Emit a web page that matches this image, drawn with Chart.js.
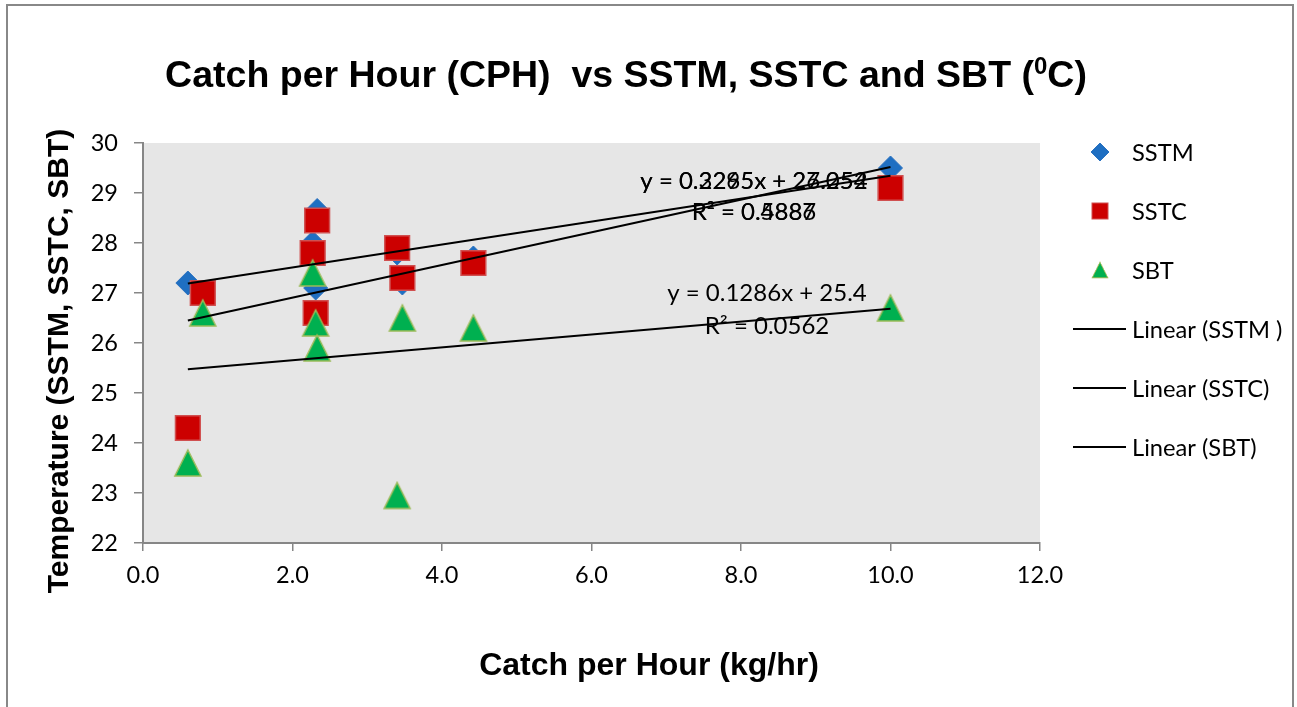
<!DOCTYPE html>
<html>
<head>
<meta charset="utf-8">
<script src="https://cdn.jsdelivr.net/npm/chart.js@4.4.0/dist/chart.umd.min.js"></script>
<style>
  html, body { margin: 0; padding: 0; background: #fff; }
  #wrap { width: 1297px; height: 707px; }
</style>
</head>
<body>
<div id="wrap"><canvas id="cphChart" width="1297" height="707"></canvas></div>
<script>
// === Data ===
const cph  = [0.6, 0.8, 2.27, 2.31, 2.33, 3.4, 3.47, 4.42, 10.0];
const sstm = [27.2, null, 28.0, 27.1, 28.65, 27.8, 27.2, 27.7, 29.5];
const sstc = [24.3, 27.0, 27.8, 26.6, 28.45, 27.9, 27.3, 27.6, 29.1];
const sbt  = [23.6, 26.6, 27.4, 26.4, 25.9, 22.95, 26.5, 26.3, 26.7];

const seriesNames = ['SSTM', 'SSTC', 'SBT'];
const trendNames = ['Linear (SSTM )', 'Linear (SSTC)', 'Linear (SBT)'];
const trendSlope = [0.2295, 0.3265, 0.1286];
const trendIntercept = [27.052, 26.254, 25.4];
const trendEq = ['y = 0.2295x + 27.052', 'y = 0.3265x + 26.254', 'y = 0.1286x + 25.4'];
const trendR2 = ['R² = 0.4886', 'R² = 0.5887', 'R² = 0.0562'];

const xTicks = [0, 2, 4, 6, 8, 10, 12];
const yTicks = [22, 23, 24, 25, 26, 27, 28, 29, 30];

const FONT = 'Lato, "Open Sans", sans-serif';
const BOLD = '"Liberation Sans", Arial, sans-serif';

// triangle marker (Excel style: as tall as wide)
function makeTriangle(size, fill, stroke) {
  const c = document.createElement('canvas');
  c.width = size + 4; c.height = size + 4;
  const g = c.getContext('2d');
  g.beginPath();
  g.moveTo(c.width / 2, 2);
  g.lineTo(c.width - 2, c.height - 2);
  g.lineTo(2, c.height - 2);
  g.closePath();
  g.fillStyle = fill; g.fill();
  g.lineWidth = 1.5; g.strokeStyle = stroke; g.stroke();
  return c;
}
const triBig = makeTriangle(26, '#00b050', '#9bbb59');

function pts(ys) {
  return cph.map((x, i) => ({ x: x, y: ys[i] })).filter(p => p.y !== null);
}
function trendPts(k) {
  const xs = cph.filter((x, i) => [sstm, sstc, sbt][k][i] !== null);
  const lo = Math.min(...xs), hi = Math.max(...xs);
  return [lo, hi].map(x => ({ x: x, y: trendSlope[k] * x + trendIntercept[k] }));
}

const markerStyles = [
  { pointStyle: 'rectRot', pointRadius: 12, backgroundColor: '#1f6fc2', borderColor: '#2b72c0', borderWidth: 1 },
  { pointStyle: 'rect', pointRadius: 17.5, backgroundColor: '#cc0000', borderColor: '#d05050', borderWidth: 1.5 },
  { pointStyle: triBig, pointRadius: 14, backgroundColor: '#00b050', borderColor: '#9bbb59', borderWidth: 1.5 }
];

const datasets = [];
[sstm, sstc, sbt].forEach((ys, k) => {
  datasets.push(Object.assign({
    type: 'scatter', label: seriesNames[k], data: pts(ys), order: 3 - k,
    pointHoverRadius: markerStyles[k].pointRadius
  }, markerStyles[k]));
});
[0, 1, 2].forEach(k => {
  datasets.push({
    type: 'line', label: trendNames[k], data: trendPts(k), order: 0,
    borderColor: '#000', borderWidth: 2, pointRadius: 0, fill: false, tension: 0
  });
});

// === Plugins for background, title, legend, trend labels ===
const decor = {
  id: 'decor',
  beforeDraw(chart) {
    const { ctx, chartArea: a } = chart;
    ctx.save();
    ctx.fillStyle = '#fff';
    ctx.fillRect(0, 0, chart.width, chart.height);
    ctx.strokeStyle = '#888'; ctx.lineWidth = 2;
    ctx.strokeRect(7, 5, 1286, 720);
    ctx.fillStyle = '#e6e6e6';
    ctx.fillRect(a.left, a.top, a.right - a.left, a.bottom - a.top);
    ctx.restore();
  },
  afterDatasetsDraw(chart) {
    const { ctx } = chart;
    ctx.save();
    ctx.fillStyle = '#000';
    ctx.textAlign = 'center';
    ctx.textBaseline = 'middle';
    ctx.font = '24px ' + FONT;
    // SSTM and SSTC labels sit on top of each other, as in the original
    ctx.fillText(trendEq[0], 754, 181);
    ctx.fillText(trendEq[1], 754, 181);
    ctx.fillText(trendR2[0], 754, 212);
    ctx.fillText(trendR2[1], 754, 212);
    ctx.fillText(trendEq[2], 767, 293);
    ctx.fillText(trendR2[2], 767, 326);
    ctx.restore();
  },
  afterDraw(chart) {
    const { ctx } = chart;
    ctx.save();
    ctx.fillStyle = '#000';
    // title with superscript 0
    const p1 = 'Catch per Hour (CPH)  vs SSTM, SSTC and SBT (', sup = '0', p2 = 'C)';
    ctx.font = 'bold 37.5px ' + BOLD;
    const w1 = ctx.measureText(p1).width, w3 = ctx.measureText(p2).width;
    ctx.font = 'bold 24px ' + BOLD;
    const w2 = ctx.measureText(sup).width;
    let x = 626 - (w1 + w2 + w3) / 2;
    ctx.textBaseline = 'alphabetic';
    ctx.textAlign = 'left';
    ctx.font = 'bold 37.5px ' + BOLD;
    ctx.fillText(p1, x, 87);
    ctx.font = 'bold 24px ' + BOLD;
    ctx.fillText(sup, x + w1, 74);
    ctx.font = 'bold 37.5px ' + BOLD;
    ctx.fillText(p2, x + w1 + w2, 87);

    // axis titles
    ctx.textAlign = 'center';
    ctx.font = 'bold 32px ' + BOLD;
    ctx.fillText('Catch per Hour (kg/hr)', 649, 675);
    ctx.translate(68, 361);
    ctx.rotate(-Math.PI / 2);
    ctx.font = 'bold 30px ' + BOLD;
    ctx.fillText('Temperature (SSTM, SSTC, SBT)', 0, 0);
    ctx.setTransform(1, 0, 0, 1, 0, 0);

    // legend
    ctx.textAlign = 'left';
    ctx.textBaseline = 'middle';
    ctx.font = '23.7px ' + FONT;
    const ds = chart.data.datasets;
    ds.forEach((d, i) => {
      const y = 152 + i * 59;
      if (d.type === 'scatter') {
        ctx.fillStyle = d.backgroundColor;
        ctx.strokeStyle = d.borderColor;
        ctx.lineWidth = 1;
        if (d.pointStyle === 'rectRot') {
          ctx.beginPath();
          ctx.moveTo(1100, y - 9); ctx.lineTo(1109, y); ctx.lineTo(1100, y + 9); ctx.lineTo(1091, y);
          ctx.closePath(); ctx.fill(); ctx.stroke();
        } else if (d.pointStyle === 'rect') {
          ctx.fillRect(1092, y - 8, 16, 16);
          ctx.strokeRect(1092, y - 8, 16, 16);
        } else {
          ctx.drawImage(d.pointStyle, 1091, y - 9, 18, 18);
        }
      } else {
        ctx.strokeStyle = d.borderColor;
        ctx.lineWidth = 2;
        ctx.beginPath();
        ctx.moveTo(1073, y); ctx.lineTo(1126, y);
        ctx.stroke();
      }
      ctx.fillStyle = '#000';
      ctx.fillText(d.label, 1132, y + 1);
    });
    ctx.restore();
  }
};

const axisGray = '#868686';
new Chart(document.getElementById('cphChart').getContext('2d'), {
  type: 'scatter',
  data: { datasets: datasets },
  options: {
    responsive: false,
    animation: false,
    events: [],
    layout: { padding: { left: 0, top: 143, right: 257, bottom: 0 } },
    plugins: { legend: { display: false }, tooltip: { enabled: false } },
    scales: {
      x: {
        type: 'linear', min: 0, max: 12,
        afterBuildTicks: s => { s.ticks = xTicks.map(v => ({ value: v })); },
        afterFit: s => { s.height = 707 - 543; },
        ticks: { callback: v => Number(v).toFixed(1), color: '#000', font: { family: FONT, size: 23.5 }, padding: 10, maxRotation: 0 },
        grid: { drawOnChartArea: false, tickLength: 8, color: axisGray, lineWidth: 1.5 },
        border: { color: axisGray, width: 2 }
      },
      y: {
        type: 'linear', min: 22, max: 30,
        afterBuildTicks: s => { s.ticks = yTicks.map(v => ({ value: v })); },
        afterFit: s => { s.width = 143; },
        ticks: { color: '#000', font: { family: FONT, size: 23.5 }, padding: 16 },
        grid: { drawOnChartArea: false, tickLength: 9, color: axisGray, lineWidth: 1.5 },
        border: { color: axisGray, width: 2 }
      }
    }
  },
  plugins: [decor]
});
</script>
</body>
</html>
